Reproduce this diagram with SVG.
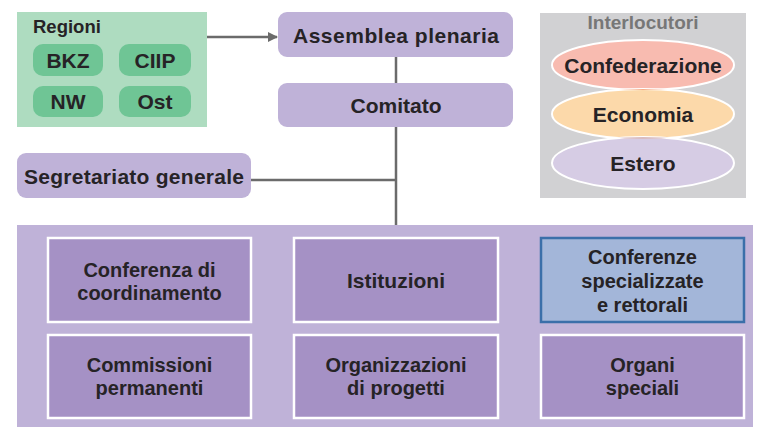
<svg xmlns="http://www.w3.org/2000/svg" width="757" height="427" viewBox="0 0 757 427">
<defs>
<style>
text{font-family:"Liberation Sans",Arial,sans-serif;font-weight:bold;fill:#262326;text-anchor:middle}
.t{font-size:21px}
.m{font-size:20px}
.pill{fill:#6fc595}
.top{fill:#bfb2d8}
.box{fill:#a591c5;stroke:#fff;stroke-width:2.5}
.con{stroke:#6b6b6b;stroke-width:2.5;fill:none}
</style>
<marker id="ah" markerWidth="10" markerHeight="10" refX="9" refY="5" orient="auto" markerUnits="userSpaceOnUse">
<path d="M0,0 L10,5 L0,10 Z" fill="#6b6b6b"/>
</marker>
<clipPath id="cEco"><ellipse cx="643" cy="114" rx="91" ry="25"/></clipPath>
<clipPath id="cEst"><ellipse cx="643" cy="163" rx="91" ry="26"/></clipPath>
</defs>
<rect x="0" y="0" width="757" height="427" fill="#fff"/>

<g id="connectors">
<line class="con" x1="207" y1="37" x2="277" y2="37" marker-end="url(#ah)"/>
<line class="con" x1="396" y1="57" x2="396" y2="225"/>
<line class="con" x1="251" y1="180" x2="396" y2="180"/>
</g>

<g id="regioni">
<rect x="17" y="12" width="190" height="115" fill="#aedcc0"/>
<text x="33" y="33" style="font-size:18.5px;text-anchor:start">Regioni</text>
<g id="bkz"><rect class="pill" x="33" y="44" width="70" height="32" rx="10"/><text class="t" x="68" y="67.5">BKZ</text></g>
<g id="ciip"><rect class="pill" x="119" y="44" width="72" height="32" rx="10"/><text class="t" x="155" y="67.5">CIIP</text></g>
<g id="nw"><rect class="pill" x="33" y="86" width="70" height="31" rx="10"/><text class="t" x="68" y="109">NW</text></g>
<g id="ost"><rect class="pill" x="119" y="86" width="72" height="31" rx="10"/><text class="t" x="155" y="109">Ost</text></g>
</g>

<g id="assemblea"><rect class="top" x="278" y="12" width="235" height="45" rx="9"/><text class="t" x="396" y="42.5" textLength="206">Assemblea plenaria</text></g>
<g id="comitato"><rect class="top" x="278" y="83" width="235" height="44" rx="9"/><text class="t" x="396" y="112.5">Comitato</text></g>
<g id="segretariato"><rect class="top" x="17" y="153" width="234" height="45" rx="9"/><text class="t" x="134" y="183.5" textLength="220">Segretariato generale</text></g>

<g id="interlocutori">
<rect x="540" y="13" width="206" height="185" fill="#d1d1d3"/>
<text x="643" y="29" style="font-size:19px;fill:#777">Interlocutori</text>
<ellipse cx="643" cy="65" rx="91" ry="25" fill="#f8bbb0" stroke="#fff" stroke-width="2"/>
<ellipse cx="643" cy="114" rx="91" ry="25" fill="#fcd9aa" stroke="#fff" stroke-width="2"/>
<ellipse cx="643" cy="163" rx="91" ry="26" fill="#d6cce4" stroke="#fff" stroke-width="2"/>
<ellipse cx="643" cy="65" rx="91" ry="25" fill="#f5ae8a" clip-path="url(#cEco)"/>
<ellipse cx="643" cy="114" rx="91" ry="25" fill="#d9bcc0" clip-path="url(#cEst)"/>
<text class="t" x="643" y="72.5">Confederazione</text>
<text class="t" x="643" y="121.5">Economia</text>
<text class="t" x="643" y="170.5">Estero</text>
</g>

<g id="organi">
<rect x="17" y="225" width="736" height="202" fill="#bfb2d8"/>
<g id="conf-coord"><rect class="box" x="48" y="238" width="203" height="84"/><text class="m" x="149.5" y="277">Conferenza di<tspan x="149.5" dy="23">coordinamento</tspan></text></g>
<g id="istituzioni"><rect class="box" x="294" y="238" width="204" height="84"/><text class="t" x="396" y="287.5">Istituzioni</text></g>
<g id="conf-spec"><rect x="541" y="238" width="203" height="84" fill="#a3b6d9" stroke="#3b6fa9" stroke-width="2.5"/><text class="m" x="642.5" y="264">Conferenze<tspan x="642.5" dy="24">specializzate</tspan><tspan x="642.5" dy="24">e rettorali</tspan></text></g>
<g id="commissioni"><rect class="box" x="48" y="335" width="203" height="83"/><text class="m" x="149.5" y="372">Commissioni<tspan x="149.5" dy="23">permanenti</tspan></text></g>
<g id="organizzazioni"><rect class="box" x="294" y="335" width="204" height="83"/><text class="m" x="396" y="372">Organizzazioni<tspan x="396" dy="23">di progetti</tspan></text></g>
<g id="organi-speciali"><rect class="box" x="541" y="335" width="203" height="83"/><text class="m" x="642.5" y="372">Organi<tspan x="642.5" dy="23">speciali</tspan></text></g>
</g>
</svg>
